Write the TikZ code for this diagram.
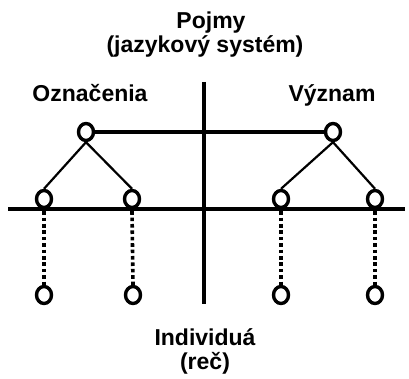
\documentclass[tikz,border=0pt]{standalone}
\usepackage{fontspec}
\setmainfont{Liberation Sans}
\usepackage{tikz}
\usetikzlibrary{positioning, shapes.geometric}

\begin{document}
\begin{tikzpicture}[
  x=1pt, y=-1pt,
  vtx/.style={draw, ellipse, line width=3.4pt, minimum width=15pt, minimum height=17pt, inner sep=0pt},
  lbl/.style={font=\fontsize{23}{27}\selectfont\bfseries, anchor=base},
  axis/.style={line width=3.4pt},
  tie/.style={line width=2.2pt},
  dots/.style={line width=3.6pt, dash pattern=on 3.6pt off 2.8pt}
]
\useasboundingbox (0,0) rectangle (409,379);
% axes
\coordinate (vtop) at (204,82);
\coordinate (vbot) at (204,304);
\coordinate (hl) at (8,209);
\coordinate (hr) at (405,209);
\draw[axis] (vtop) -- (vbot);
\draw[axis] (hl) -- (hr);
% labels
\node[lbl] (pojmy) at (211,29) {Pojmy};
\node[lbl] (system) at (205,53) {(jazykový systém)};
\node[lbl] (oznac) at (90,102) {Označenia};
\node[lbl] (vyznam) at (332,102) {Význam};
\node[lbl] (indiv) at (205,345) {Individuá};
\node[lbl] (rec) at (205,369) {(reč)};
% vertices
\node[vtx] (t1) at (86,132) {};
\node[vtx] (t2) at (333,132) {};
\node[vtx] (a1) at (44,199) {};
\node[vtx] (a2) at (132,199) {};
\node[vtx] (b1) at (281,199) {};
\node[vtx] (b2) at (375,199) {};
\node[vtx] (c1) at (44,295) {};
\node[vtx] (c2) at (133,295) {};
\node[vtx] (d1) at (281,295) {};
\node[vtx] (d2) at (375,295) {};
% connectors
\draw[axis] (t1.east) -- (t2.west);
\draw[tie] (t1.south) -- (a1.north);
\draw[tie] (t1.south) -- (a2.north);
\draw[tie] (t2.south) -- (b1.north);
\draw[tie] (t2.south) -- (b2.north);
\foreach \u/\l in {a1/c1, a2/c2, b1/d1, b2/d2}
  \draw[dots] ([yshift=-2pt]\u.south) -- (\l.north);
\end{tikzpicture}
\end{document}
